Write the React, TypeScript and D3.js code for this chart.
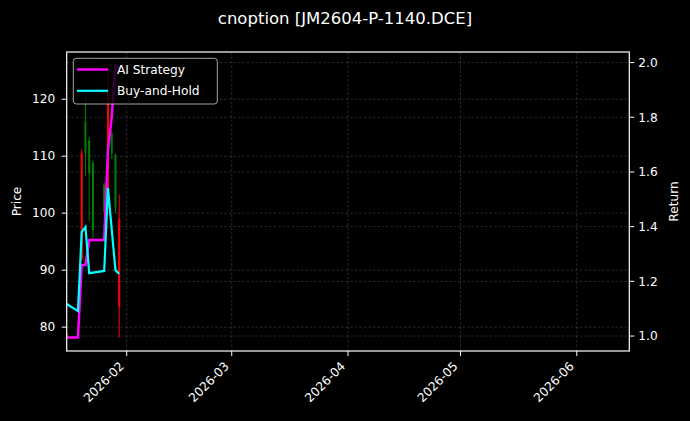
import React, { useEffect, useRef } from 'react'
import * as d3 from 'd3'

// 交易日与K线
const dates = ['2026-01-16', '2026-01-19', '2026-01-20', '2026-01-21', '2026-01-22', '2026-01-23', '2026-01-26', '2026-01-27', '2026-01-28', '2026-01-29', '2026-01-30']
const opens = [78.6, 78.8, 91.8, 116, 112.8, 108.8, 105, 103.5, 114, 110.2, 83.5]
const highs = [79, 79.1, 111.2, 121, 113.4, 109.3, 105.5, 125.9, 114.5, 110.5, 103.3]
const lows = [78.3, 78.4, 91.5, 106.5, 98.6, 95.4, 99.6, 103, 109.5, 100, 78.2]
const closes = [78.8, 78.6, 110.6, 110.5, 107, 97, 100.3, 121.5, 110.5, 101, 99]

// 收益曲线
const aiStrategy = [0.995, 0.995, 1.26, 1.26, 1.351, 1.351, 1.351, 1.68, 1.8, 1.989, 1.98]
const buyHold = [1.117, 1.091, 1.381, 1.399, 1.23, 1.232, 1.238, 1.542, 1.39, 1.241, 1.227]

const priceTicks = [80, 90, 100, 110, 120]
const returnTicks = [1.0, 1.2, 1.4, 1.6, 1.8, 2.0]
const monthTicks = ['2026-02', '2026-03', '2026-04', '2026-05', '2026-06']
const xStart = '2026-01-16'
const xEnd = '2026-06-15'

const W = 690
const H = 421
const FONT = 'DejaVu Sans, sans-serif'

const App = () => {
  const refSvg = useRef<SVGSVGElement>(null)

  const draw = () => {
    const svg = d3.select(refSvg.current)
    svg.selectAll('*').remove()

    const left = 66.7
    const right = 629.3
    const top = 52
    const bottom = 351

    const parse = d3.timeParse('%Y-%m-%d')
    const parseM = d3.timeParse('%Y-%m')
    const days = dates.map((d) => parse(d) as Date)

    const x = d3.scaleTime().domain([parse(xStart) as Date, parse(xEnd) as Date]).range([left, right])

    const pMin = d3.min(lows) as number
    const pMax = d3.max(highs) as number
    const pPad = (pMax - pMin) * 0.05
    const y = d3.scaleLinear().domain([pMin - pPad, pMax + pPad]).range([bottom, top])

    const allR = aiStrategy.concat(buyHold)
    const rMin = d3.min(allR) as number
    const rMax = d3.max(allR) as number
    const rPad = (rMax - rMin) * 0.05
    const y2 = d3.scaleLinear().domain([rMin - rPad, rMax + rPad]).range([bottom, top])

    svg.append('rect').attr('width', W).attr('height', H).attr('fill', '#000')

    svg.append('defs').append('clipPath').attr('id', 'plot').append('rect')
      .attr('x', left).attr('y', top).attr('width', right - left).attr('height', bottom - top)

    // 网格
    const grid = svg.append('g').attr('stroke', '#9a9a9a').attr('stroke-opacity', 0.45).attr('stroke-width', 0.6).attr('stroke-dasharray', '2.5,2')
    monthTicks.forEach((m) => {
      const px = x(parseM(m) as Date)
      grid.append('line').attr('x1', px).attr('x2', px).attr('y1', top).attr('y2', bottom)
    })
    priceTicks.forEach((t) => {
      grid.append('line').attr('x1', left).attr('x2', right).attr('y1', y(t)).attr('y2', y(t))
    })
    returnTicks.forEach((t) => {
      grid.append('line').attr('x1', left).attr('x2', right).attr('y1', y2(t)).attr('y2', y2(t))
    })

    // K线
    const candles = svg.append('g').attr('clip-path', 'url(#plot)')
    days.forEach((d, i) => {
      const c = closes[i] >= opens[i] ? '#ff0000' : '#008000'
      const cx = x(d)
      candles.append('line').attr('x1', cx).attr('x2', cx).attr('y1', y(highs[i])).attr('y2', y(lows[i]))
        .attr('stroke', c).attr('stroke-width', 1)
      const b0 = y(Math.max(opens[i], closes[i]))
      const b1 = y(Math.min(opens[i], closes[i]))
      candles.append('rect').attr('x', cx - 1).attr('y', b0).attr('width', 2).attr('height', Math.max(0.8, b1 - b0)).attr('fill', c)
    })

    // 收益线
    const line = d3.line<number>().x((_, i) => x(days[i])).y((v) => y2(v))
    const lines = svg.append('g').attr('clip-path', 'url(#plot)').attr('fill', 'none')
    lines.append('path').datum(aiStrategy).attr('d', line).attr('stroke', '#ff00ff').attr('stroke-width', 2.5)
    lines.append('path').datum(buyHold).attr('d', line).attr('stroke', '#00ffff').attr('stroke-width', 2.2)

    // 边框
    svg.append('rect').attr('x', left).attr('y', top).attr('width', right - left).attr('height', bottom - top)
      .attr('fill', 'none').attr('stroke', '#fff').attr('stroke-width', 1.2)

    const txt = svg.append('g').attr('fill', '#fff').attr('font-family', FONT).attr('font-size', 12.2)

    // 左轴
    priceTicks.forEach((t) => {
      svg.append('line').attr('x1', left - 5).attr('x2', left).attr('y1', y(t)).attr('y2', y(t)).attr('stroke', '#fff')
      txt.append('text').attr('x', left - 11.5).attr('y', y(t)).attr('dy', '0.35em').attr('text-anchor', 'end').text(t)
    })
    // 右轴
    returnTicks.forEach((t) => {
      svg.append('line').attr('x1', right).attr('x2', right + 5).attr('y1', y2(t)).attr('y2', y2(t)).attr('stroke', '#fff')
      txt.append('text').attr('x', right + 9).attr('y', y2(t)).attr('dy', '0.35em').text(t.toFixed(1))
    })
    // 时间轴
    monthTicks.forEach((m) => {
      const px = x(parseM(m) as Date)
      svg.append('line').attr('x1', px).attr('x2', px).attr('y1', bottom).attr('y2', bottom + 5).attr('stroke', '#fff')
      txt.append('text').attr('transform', `translate(${px - 2},${bottom + 16}) rotate(-45)`).attr('text-anchor', 'end').text(m)
    })

    txt.append('text').attr('transform', `translate(21,${(top + bottom) / 2}) rotate(-90)`).attr('text-anchor', 'middle').text('Price')
    txt.append('text').attr('transform', `translate(678,${(top + bottom) / 2}) rotate(-90)`).attr('text-anchor', 'middle').text('Return')

    svg.append('text').attr('x', W / 2).attr('y', 24).attr('text-anchor', 'middle').attr('fill', '#fff')
      .attr('font-family', FONT).attr('font-size', 16.5).text('cnoption [JM2604-P-1140.DCE]')

    // 图例
    const lg = svg.append('g')
    lg.append('rect').attr('x', 73.3).attr('y', 58.3).attr('width', 144).attr('height', 45.7).attr('rx', 3)
      .attr('fill', '#000').attr('fill-opacity', 0.8).attr('stroke', '#cccccc').attr('stroke-opacity', 0.8)
    const items = [
      { name: 'AI Strategy', color: '#ff00ff', w: 2.5 },
      { name: 'Buy-and-Hold', color: '#00ffff', w: 2.2 },
    ]
    items.forEach((it, i) => {
      const ly = 69.5 + i * 21.3
      lg.append('line').attr('x1', 77).attr('x2', 108).attr('y1', ly).attr('y2', ly).attr('stroke', it.color).attr('stroke-width', it.w)
      lg.append('text').attr('x', 117).attr('y', ly).attr('dy', '0.35em').attr('fill', '#fff')
        .attr('font-family', FONT).attr('font-size', 12.2).text(it.name)
    })
  }

  useEffect(() => {
    if (refSvg) {
      draw()
    }
  })

  return <svg ref={refSvg} width={W} height={H} style={{ position: 'absolute', left: 0, top: 0, display: 'block' }} />
}

export default App
